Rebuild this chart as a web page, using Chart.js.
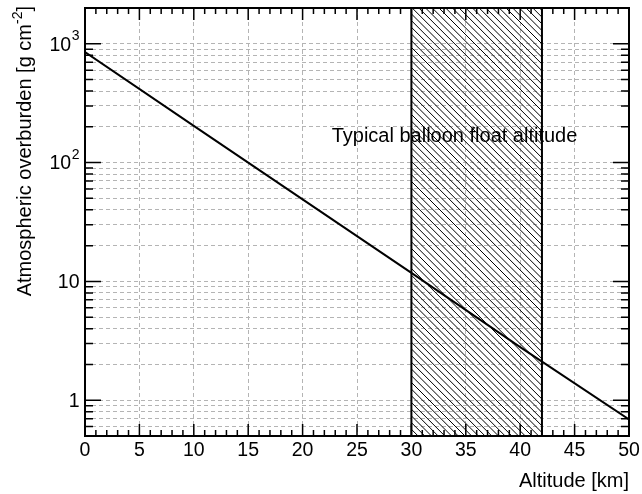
<!DOCTYPE html>
<html>
<head>
<meta charset="utf-8">
<script src="https://cdn.jsdelivr.net/npm/chart.js@4.4.1/dist/chart.umd.min.js"></script>
<style>
  html, body { margin: 0; padding: 0; background: #fff; }
</style>
</head>
<body>
<canvas id="overburdenChart" width="642" height="494"></canvas>
<script>
// atmospheric depth vs altitude
const altitudeKm = [0, 10, 20, 30, 40, 50];
const overburden = [853, 204, 49, 11.8, 2.8, 0.69];

// altitude range flown by balloons
const floatBand = [30, 42];
const bandLabel = 'Typical balloon float altitude';

const yGridValues = [0.6, 0.7, 0.8, 0.9, 1, 2, 3, 4, 5, 6, 7, 8, 9, 10, 20, 30, 40, 50, 60, 70, 80, 90,
  100, 200, 300, 400, 500, 600, 700, 800, 900, 1000];
// decade labels: [base, exponent]
const yTickLabels = { 1: ['1', ''], 10: ['10', ''], 100: ['10', '2'], 1000: ['10', '3'] };

const FONT = '"Liberation Sans", Arial, Helvetica, sans-serif';

const rootStyle = {
  id: 'rootStyle',
  beforeDatasetsDraw(chart) {
    const { ctx, chartArea: a, scales: { x } } = chart;
    const x0 = x.getPixelForValue(floatBand[0]);
    const x1 = x.getPixelForValue(floatBand[1]);
    const h = a.bottom - a.top;
    ctx.save();
    ctx.beginPath();
    ctx.rect(x0, a.top, x1 - x0, h);
    ctx.clip();
    ctx.strokeStyle = '#000';
    ctx.lineWidth = 1;
    ctx.beginPath();
    for (let s = x0 - h; s < x1 + 2; s += 6.7) {
      ctx.moveTo(s, a.top);
      ctx.lineTo(s + h, a.bottom);
    }
    ctx.stroke();
    ctx.restore();

    ctx.save();
    ctx.strokeStyle = '#000';
    ctx.lineWidth = 2;
    ctx.beginPath();
    ctx.moveTo(x0, a.top); ctx.lineTo(x0, a.bottom);
    ctx.moveTo(x1, a.top); ctx.lineTo(x1, a.bottom);
    ctx.stroke();
    ctx.restore();
  },
  afterDatasetsDraw(chart) {
    const { ctx, chartArea: a, scales: { x, y } } = chart;
    ctx.save();
    ctx.strokeStyle = '#000';

    // tick marks on all four sides, pointing inward
    ctx.lineWidth = 1.5;
    ctx.beginPath();
    for (let v = 0; v <= 50; v += 1) {
      const px = x.getPixelForValue(v);
      const len = v % 5 === 0 ? 12 : 6;
      ctx.moveTo(px, a.bottom); ctx.lineTo(px, a.bottom - len);
      ctx.moveTo(px, a.top); ctx.lineTo(px, a.top + len);
    }
    yGridValues.forEach(v => {
      const py = y.getPixelForValue(v);
      const len = yTickLabels[v] ? 16 : 8;
      ctx.moveTo(a.left, py); ctx.lineTo(a.left + len, py);
      ctx.moveTo(a.right, py); ctx.lineTo(a.right - len, py);
    });
    ctx.stroke();

    // frame
    ctx.lineWidth = 2;
    ctx.strokeRect(a.left, a.top, a.right - a.left, a.bottom - a.top);

    ctx.fillStyle = '#000';

    // y decade labels, exponent as raised smaller text
    ctx.textAlign = 'right';
    ctx.textBaseline = 'middle';
    Object.keys(yTickLabels).forEach(k => {
      const [base, exp] = yTickLabels[k];
      const py = y.getPixelForValue(Number(k)) + 1.5;
      let right = a.left - 5.5;
      if (exp) {
        ctx.font = '14px ' + FONT;
        ctx.fillText(exp, right, py - 9);
        right -= ctx.measureText(exp).width + 0.5;
      }
      ctx.font = '19.5px ' + FONT;
      ctx.fillText(base, right, py);
    });

    // band caption
    ctx.font = '20px ' + FONT;
    ctx.textAlign = 'left';
    ctx.textBaseline = 'alphabetic';
    ctx.fillText(bandLabel, x.getPixelForValue(22.67), y.getPixelForValue(150));

    // x axis title, right aligned
    ctx.textAlign = 'right';
    ctx.fillText('Altitude [km]', a.right, 487);

    // y axis title with superscript, ending at the top
    const main = 'Atmospheric overburden [g cm';
    const sup = '-2';
    const tail = ']';
    ctx.font = '20px ' + FONT;
    const wMain = ctx.measureText(main).width;
    const wTail = ctx.measureText(tail).width;
    ctx.font = '14px ' + FONT;
    const wSup = ctx.measureText(sup).width;
    const total = wMain + wSup + wTail;
    ctx.translate(31, 0);
    ctx.rotate(-Math.PI / 2);
    ctx.textAlign = 'left';
    let u = -6 - total;
    ctx.font = '20px ' + FONT;
    ctx.fillText(main, u, 0);
    u += wMain;
    ctx.font = '14px ' + FONT;
    ctx.fillText(sup, u, -9);
    u += wSup;
    ctx.font = '20px ' + FONT;
    ctx.fillText(tail, u, 0);
    ctx.restore();
  }
};

const ctx = document.getElementById('overburdenChart').getContext('2d');
new Chart(ctx, {
  type: 'line',
  data: {
    datasets: [{
      data: altitudeKm.map((v, i) => ({ x: v, y: overburden[i] })),
      borderColor: '#000',
      borderWidth: 2,
      pointRadius: 0,
      tension: 0,
      fill: false
    }]
  },
  options: {
    responsive: false,
    animation: false,
    layout: { padding: { top: 8, right: 13, left: 0, bottom: 0 } },
    plugins: { legend: { display: false }, tooltip: { enabled: false } },
    scales: {
      x: {
        type: 'linear',
        min: 0,
        max: 50,
        ticks: { stepSize: 5, color: '#000', font: { family: FONT, size: 19.5 }, padding: 3, maxRotation: 0 },
        grid: { color: '#b4b4b4', lineWidth: 1, drawTicks: false },
        border: { display: false, dash: [4, 3] },
        afterFit(s) { s.height = 58; s.paddingLeft = 0; s.paddingRight = 0; }
      },
      y: {
        type: 'logarithmic',
        min: 0.5,
        max: 2000,
        afterBuildTicks(s) { s.ticks = yGridValues.map(v => ({ value: v })); },
        ticks: { display: false },
        grid: { color: '#b4b4b4', lineWidth: 1, drawTicks: false },
        border: { display: false, dash: [4, 3] },
        afterFit(s) { s.width = 85; s.paddingTop = 0; s.paddingBottom = 0; }
      }
    }
  },
  plugins: [rootStyle]
});
</script>
</body>
</html>
